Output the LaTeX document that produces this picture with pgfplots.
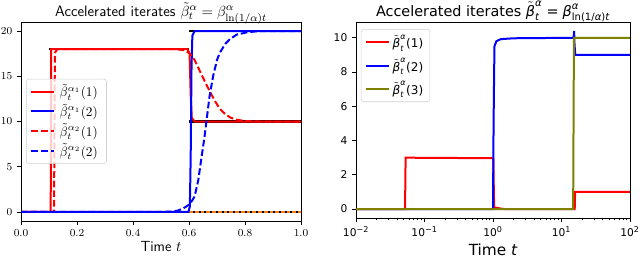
\documentclass[border=0pt]{standalone}
\usepackage{pgfplots}
\pgfplotsset{compat=1.18}
\usepackage{amsmath}
\usepackage{fontspec}
\newfontfamily\djv{DejaVu Sans}
\newcommand\di[1]{\text{\djv\itshape #1}}
\newcommand\du[1]{\text{\djv #1}}
\definecolor{mplorange}{HTML}{FF7F0E}
\definecolor{olive}{HTML}{808000}
\begin{document}
\begin{tikzpicture}
\useasboundingbox (0,0) rectangle (480pt,-192.75pt);
\begin{axis}[
  at={(15.75pt,-165.75pt)}, anchor=south west, scale only axis,
  width=210pt, height=149.25pt,
  xmin=0, xmax=1, ymin=-1, ymax=21,
  xtick={0,0.2,0.4,0.6,0.8,1}, ytick={0,5,10,15,20},
  xticklabel style={/pgf/number format/.cd, fixed, fixed zerofill, precision=1},
  tick align=outside, tick pos=left, major tick length=3pt,
  ticklabel style={font=\fontsize{8.3}{9}\selectfont},
  axis line style={line width=0.6pt}, every tick/.style={line width=0.6pt, black},
  title={\sffamily Accelerated iterates $\tilde\beta^\alpha_t = \beta^\alpha_{\ln(1/\alpha)t}$},
  title style={font=\fontsize{11.3}{13}\selectfont, at={(0.5,1)}, anchor=base, yshift=-1.5pt},
  xlabel={\sffamily Time $t$},
  xlabel style={font=\fontsize{11}{12}\selectfont, at={(0.5,0)}, anchor=base, yshift=-23pt},
  legend style={at={(0.018,0.714)}, anchor=north west, draw=black!18, rounded corners=2pt,
    fill=white, fill opacity=0.8, text opacity=1, font=\fontsize{9.6}{11}\selectfont,
    row sep=0pt, nodes={inner xsep=3.5pt}},
  legend cell align=left,
]
\addplot[forget plot, mplorange, line width=1.5pt] coordinates {(0,0) (1,0)};
\addplot[forget plot, black, line width=1.7pt] coordinates {(0.1,18) (0.6,18)};
\addplot[forget plot, black, line width=1.7pt] coordinates {(0.6,20) (1,20)};
\addplot[forget plot, black, line width=1.7pt] coordinates {(0.6,10) (1,10)};
\addplot[forget plot, black, line width=1.5pt, dash pattern=on 1.5pt off 2.8pt] coordinates {(0,0) (1,0)};
\addplot[red, line width=1.5pt] coordinates {(0,0) (0.106,0) (0.108,18) (0.595,18) (0.602,17.5) (0.606,13) (0.61,10.4) (0.62,10) (1,10)};
\addlegendentry{$\tilde\beta_t^{\alpha_1}(1)$}
\addplot[blue, line width=1.5pt] coordinates {(0,0) (0.598,0) (0.603,0.6) (0.606,6) (0.609,16) (0.612,19.5) (0.62,20) (1,20)};
\addlegendentry{$\tilde\beta_t^{\alpha_1}(2)$}
\addplot[red, line width=1.5pt, dash pattern=on 5pt off 2.2pt] coordinates {(0,0) (0.118,0) (0.121,17.6) (0.13,18) (0.55,18) (0.58,17.9) (0.6,17.6) (0.62,16.8) (0.64,15.5) (0.66,14.2) (0.675,13.3) (0.69,12.4) (0.71,11.4) (0.73,10.8) (0.75,10.4) (0.77,10.2) (0.8,10.05) (0.85,10) (1,10)};
\addlegendentry{$\tilde\beta_t^{\alpha_2}(1)$}
\addplot[blue, line width=1.5pt, dash pattern=on 5pt off 2.2pt] coordinates {(0,0) (0.5,0) (0.54,0.05) (0.56,0.15) (0.58,0.4) (0.6,0.8) (0.61,1.2) (0.62,1.7) (0.633,3.5) (0.645,6.1) (0.655,8.2) (0.663,10.2) (0.673,12.7) (0.686,15) (0.7,16.8) (0.71,17.6) (0.73,18.6) (0.746,19.1) (0.77,19.6) (0.806,19.85) (0.85,20) (1,20)};
\addlegendentry{$\tilde\beta_t^{\alpha_2}(2)$}
\end{axis}
\begin{semilogxaxis}[
  at={(267pt,-163.5pt)}, anchor=south west, scale only axis,
  width=205.5pt, height=147pt,
  xmin=0.01, xmax=100, ymin=-0.52, ymax=10.92,
  xtick={0.01,0.1,1,10,100},
  xticklabels={10\textsuperscript{−2},10\textsuperscript{−1},10\textsuperscript{0},10\textsuperscript{1},10\textsuperscript{2}},
  ytick={0,2,4,6,8,10},
  /pgf/number format/assume math mode=true,
  tick align=outside, tick pos=left, major tick length=3pt, minor tick length=1.8pt,
  ticklabel style={font=\djv\fontsize{8}{9}\selectfont},
  axis line style={line width=0.6pt}, every tick/.style={line width=0.6pt, black},
  title={\djv Accelerated iterates $\tilde{\di{β}}^{\di{α}}_{\di{t}} \mathrel{\du{=}} \di{β}^{\di{α}}_{\du{ln(1/}\di{α}\du{)}\di{t}}$},
  title style={font=\fontsize{10.8}{13}\selectfont, at={(0.5,1)}, anchor=base, yshift=-2pt},
  xlabel={\djv Time \di{t}},
  xlabel style={font=\fontsize{11.5}{13}\selectfont, at={(0.5,0)}, anchor=base, yshift=-28pt},
  legend style={at={(0.018,0.964)}, anchor=north west, draw=black!18, rounded corners=2pt,
    fill=white, fill opacity=0.8, text opacity=1, font=\djv\fontsize{9}{11}\selectfont,
    row sep=2pt},
  legend cell align=left,
]
\addplot[red, line width=1.5pt] coordinates {(0.01,0) (0.052,0) (0.053,3) (1.0,2.97) (1.01,2.9) (1.04,0.1) (1.3,0.03) (1.5,0) (15.6,0) (15.8,1) (100,1)};
\addlegendentry{$\tilde{\di{β}}^{\di{α}}_{\di{t}}\du{(1)}$}
\addplot[blue, line width=1.5pt] coordinates {(0.01,0) (1.0,0) (1.02,5) (1.05,9.5) (1.12,9.8) (1.3,9.92) (2,9.97) (15,10) (15.3,10.4) (15.5,9.6) (15.9,9) (100,9)};
\addlegendentry{$\tilde{\di{β}}^{\di{α}}_{\di{t}}\du{(2)}$}
\addplot[olive, line width=1.5pt] coordinates {(0.01,0) (14.8,0) (15.2,10) (100,10)};
\addlegendentry{$\tilde{\di{β}}^{\di{α}}_{\di{t}}\du{(3)}$}
\end{semilogxaxis}
\end{tikzpicture}
\end{document}
